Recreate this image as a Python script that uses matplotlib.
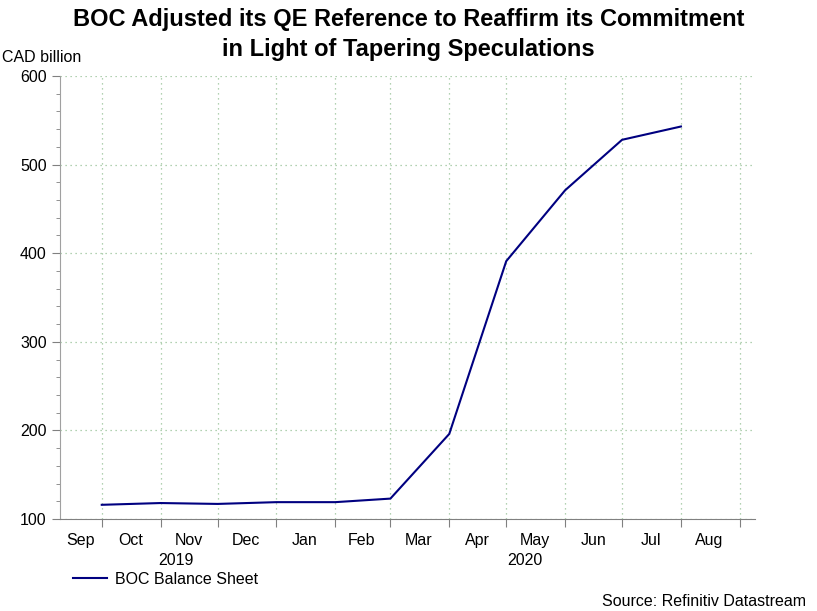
import datetime as dt
from matplotlib import pyplot as plt
import matplotlib.dates as mdates
from matplotlib.ticker import MultipleLocator

plt.rcParams['font.family'] = ['Liberation Sans', 'DejaVu Sans']

# data (month-start, CAD billion)
dates = [dt.date(2019, 10, 1), dt.date(2019, 11, 1), dt.date(2019, 12, 1),
         dt.date(2020, 1, 1), dt.date(2020, 2, 1), dt.date(2020, 3, 1),
         dt.date(2020, 4, 1), dt.date(2020, 5, 1), dt.date(2020, 6, 1),
         dt.date(2020, 7, 1), dt.date(2020, 8, 1)]
balance = [116, 118, 117, 119, 119, 123, 196, 391, 471, 528, 543]

month_names = ["Sep", "Oct", "Nov", "Dec", "Jan", "Feb", "Mar", "Apr", "May", "Jun", "Jul", "Aug"]
month_mid = [dt.date(2019, 9, 20), dt.date(2019, 10, 16), dt.date(2019, 11, 16), dt.date(2019, 12, 16),
             dt.date(2020, 1, 16), dt.date(2020, 2, 15), dt.date(2020, 3, 16), dt.date(2020, 4, 16),
             dt.date(2020, 5, 16), dt.date(2020, 6, 16), dt.date(2020, 7, 16), dt.date(2020, 8, 16)]
years = ["2019", "2020"]
year_pos = [dt.date(2019, 11, 9), dt.date(2020, 5, 11)]

fig = plt.figure(figsize=(8.17, 6.11), dpi=100)
ax = fig.add_axes([0.0734, 0.1506, 0.8507, 0.725])

ax.plot(dates, balance, color="#000080", linewidth=1.5, label="BOC Balance Sheet")

ax.set_xlim(dt.date(2019, 9, 9), dt.date(2020, 9, 9))
ax.set_ylim(100, 600)
ax.yaxis.set_major_locator(MultipleLocator(100))
ax.yaxis.set_minor_locator(MultipleLocator(20))

# month boundaries as ticks, names in the middle
ax.xaxis.set_major_locator(mdates.MonthLocator())
ax.xaxis.set_major_formatter(plt.NullFormatter())
ax.set_xticks(month_mid, minor=True)
ax.set_xticklabels(month_names, minor=True)
ax.tick_params(axis='x', which='minor', length=0, pad=10, labelsize=11.5)
ax.tick_params(axis='x', which='major', length=6, color="#808080", direction='out')
ax.tick_params(axis='y', which='major', length=6, color="#808080", labelsize=11.5)
ax.tick_params(axis='y', which='minor', length=3, color="#808080")

for d, y in zip(year_pos, years):
    ax.text(mdates.date2num(d), -0.077, y, transform=ax.get_xaxis_transform(),
            ha='center', va='top', fontsize=11.5)

ax.grid(True, which='major', linestyle=(0, (1, 3)), color="#99c299", linewidth=0.9)

for s in ["top", "right"]:
    ax.spines[s].set_visible(False)
ax.spines["left"].set_color("#a0a0a0")
ax.spines["bottom"].set_color("#808080")

fig.text(0.5, 0.944, "BOC Adjusted its QE Reference to Reaffirm its Commitment\nin Light of Tapering Speculations",
         ha='center', va='center', fontsize=17, fontweight='bold', linespacing=1.4)
fig.text(0.003, 0.906, "CAD billion", ha='left', va='center', fontsize=11.5)
fig.text(0.986, 0.016, "Source: Refinitiv Datastream", ha='right', va='center', fontsize=11.5)

fig.legend(loc='lower left', bbox_to_anchor=(0.072, 0.016), frameon=False, fontsize=11.5,
           handlelength=2.1, handletextpad=0.5)

fig.savefig("out.png", dpi=100)
